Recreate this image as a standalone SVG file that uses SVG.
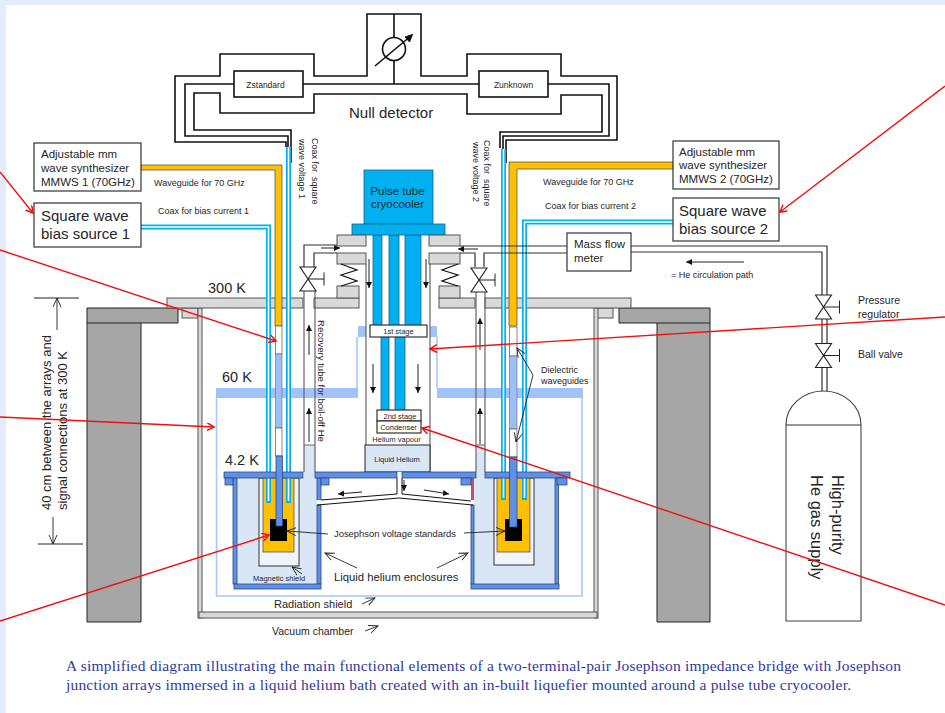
<svg xmlns="http://www.w3.org/2000/svg" width="945" height="713" viewBox="0 0 945 713">
<style>
text{font-family:"Liberation Sans",Arial,sans-serif;fill:#262626}
.s8{font-size:8.5px}.s9{font-size:9px}.s10{font-size:10.5px}.s11{font-size:11.5px}.s15{font-size:15px}
.cap{font-family:"Liberation Serif","Times New Roman",serif;font-size:15.5px;fill:#2f3a9e}
.w{fill:none;stroke:#111;stroke-width:1.6}
.thin{fill:none;stroke:#222;stroke-width:1}
.gl{fill:none;stroke:#666;stroke-width:1.2}
.box{fill:#fff;stroke:#333;stroke-width:1.2}
.conc{fill:#a6a6a6;stroke:#222;stroke-width:1}
.plate{fill:#d9d9d9;stroke:#555;stroke-width:1}
.cy{fill:#00b0f0;stroke:#1f5f80;stroke-width:.8}
.fl{fill:#5f8fe6;stroke:#2a4a80;stroke-width:.8}
.lb{fill:#9dbff7;stroke:#555;stroke-width:.5}
.shield{fill:#a2c2fa}
.he{fill:#d8e6f6}
.or{fill:#ffc000;stroke:#555;stroke-width:.8}
.ca{fill:none;stroke:#00b0f0;stroke-width:5}
.cw{fill:none;stroke:#fff;stroke-width:1.6}
.red{fill:none;stroke:#f01010;stroke-width:1.4;marker-end:url(#rh)}
.oa{fill:none;stroke:#222;stroke-width:.9;marker-end:url(#oh)}
.fa{fill:none;stroke:#222;stroke-width:1;marker-end:url(#fh)}
</style>
<defs>
<marker id="rh" markerUnits="userSpaceOnUse" markerWidth="10" markerHeight="10" refX="7" refY="4" orient="auto"><path d="M0,0 L7,4 L0,8" fill="none" stroke="#f01010" stroke-width="1.5"/></marker>
<marker id="oh" markerUnits="userSpaceOnUse" markerWidth="12" markerHeight="12" refX="9" refY="4.5" orient="auto"><path d="M0,0.5 L9,4.5 L0,8.5" fill="none" stroke="#222" stroke-width=".9"/></marker>
<marker id="fh" markerUnits="userSpaceOnUse" markerWidth="8" markerHeight="8" refX="6" refY="3" orient="auto"><path d="M0,0 L6,3 L0,6 Z" fill="#111"/></marker>
<g id="valveR"><path d="M-8,-12 H8 L-8,12 H8 Z" fill="#fff" stroke="#222" stroke-width="1.1"/><path d="M0,0 H16 M16,-6.5 V6.5" fill="none" stroke="#222" stroke-width="1"/></g>
</defs>

<rect width="945" height="713" fill="#e4ecfb"/>
<rect x="6" y="5" width="939" height="708" fill="#fff"/>

<g id="concrete">
<path class="conc" d="M87,308 H178 V323 H141 V622 H87 Z"/>
<path class="conc" d="M619,308 H710 V622 H657 V323 H619 Z"/>
<path d="M87,323 H141 M657,323 H710" stroke="#222" fill="none"/>
</g>

<g id="vacuum-chamber">
<rect class="plate" x="182" y="308" width="16" height="10"/>
<rect class="plate" x="597" y="308" width="16" height="10"/>
<rect class="plate" x="198" y="308" width="4" height="310"/>
<rect class="plate" x="594" y="308" width="4" height="310"/>
<rect class="plate" x="199" y="612" width="398" height="6"/>
</g>

<g id="radiation-shield">
<path d="M216.500,396 V596 H582 V396 M357,388 V337 M437,388 V337" fill="none" stroke="#a9c8f7" stroke-width="1.600"/>
<rect class="shield" x="216" y="388" width="142" height="10"/>
<rect class="shield" x="437" y="388" width="146" height="10"/>
<rect class="shield" x="358" y="326" width="8" height="11"/>
<rect class="shield" x="430" y="326" width="7" height="11"/>
</g>

<g id="plate-300K">
<rect class="plate" x="167" y="298" width="136" height="10"/>
<rect class="plate" x="314" y="298" width="45" height="10"/>
<rect class="plate" x="439" y="298" width="36" height="10"/>
<rect class="plate" x="485" y="298" width="146" height="10"/>
</g>

<g id="helium-enclosure-left">
<rect class="he" x="237" y="478" width="80" height="106"/>
<rect class="fl" x="233" y="478" width="4" height="106"/>
<rect class="fl" x="317" y="478" width="4" height="22"/>
<rect class="fl" x="317" y="505" width="4" height="79"/>
<rect class="fl" x="234" y="584" width="87" height="5"/>
<rect x="259" y="478" width="40" height="88" fill="#f0f5fb" stroke="#333" stroke-width="1"/>
<rect class="or" x="263" y="478" width="31" height="74"/>
<rect x="270" y="519" width="17" height="22" fill="#000"/>
</g>

<g id="helium-enclosure-right">
<rect class="he" x="474" y="478" width="81" height="106"/>
<rect x="471" y="478" width="3" height="22" fill="#c8506a"/>
<rect class="fl" x="471" y="505" width="3" height="79"/>
<rect class="fl" x="555" y="478" width="3.500" height="106"/>
<rect class="fl" x="471" y="584" width="88" height="5"/>
<rect x="494" y="478" width="40" height="87" fill="#f0f5fb" stroke="#333" stroke-width="1"/>
<rect class="or" x="497" y="478" width="33" height="74"/>
<rect x="505" y="519" width="17" height="22" fill="#000"/>
</g>

<g id="recovery-tubes">
<rect x="304" y="445" width="11" height="34" class="he"/>
<rect x="476" y="445" width="9" height="34" class="he"/>
<path class="gl" d="M304,291 V472 M315,291 V472 M476,291 V472 M485,291 V472 M304,445 H315 M476,445 H485"/>
</g>

<g id="cryocooler">
<path class="gl" d="M366,264 V472 M430,264 V472"/>
<rect class="cy" x="373" y="235" width="9" height="91"/>
<rect class="cy" x="389" y="235" width="10" height="91"/>
<rect class="cy" x="405" y="235" width="16" height="91"/>
<rect class="cy" x="381" y="337" width="8" height="73"/>
<rect class="cy" x="395" y="337" width="10" height="73"/>
<rect class="cy" x="364" y="170" width="69" height="54"/>
<rect class="cy" x="352" y="224" width="93" height="11"/>
<rect class="plate" x="337" y="235" width="29" height="11"/>
<rect class="plate" x="337" y="253" width="29" height="11"/>
<rect class="plate" x="337" y="286" width="22" height="12"/>
<rect class="plate" x="429" y="235" width="31" height="11"/>
<rect class="plate" x="429" y="253" width="31" height="11"/>
<rect class="plate" x="439" y="286" width="21" height="12"/>
<path class="w" style="stroke-width:1.200" d="M341,264 L357,270 L341,275 L357,281 L341,286 M458,264 L442,270 L458,275 L442,281 L458,286"/>
<rect class="box" x="370" y="325" width="57" height="12"/>
<rect class="box" x="377" y="410" width="44" height="11"/>
<rect class="box" x="377" y="421" width="44" height="12"/>
<rect x="365" y="445" width="65" height="27" fill="#d8e6f6" stroke="#222" stroke-width="1"/>
<text x="397.500" y="195" text-anchor="middle" style="font-size:11.500px">Pulse tube</text>
<text x="397.500" y="208" text-anchor="middle" style="font-size:11.500px">cryocooler</text>
<text x="398.500" y="334" text-anchor="middle" style="font-size:7.500px">1st stage</text>
<text x="400" y="419" text-anchor="middle" style="font-size:7.500px">2nd stage</text>
<text x="398.500" y="430" text-anchor="middle" style="font-size:7.500px">Condenser</text>
<text x="396.500" y="442" text-anchor="middle" style="font-size:7.500px">Helium vapour</text>
<text x="397" y="462" text-anchor="middle" style="font-size:7.500px">Liquid Helium</text>
</g>

<g id="transfer-line">
<path d="M321,500 L397,494 V472 H402 V494 L471,501 V505 L400,498 L317,504 V500 Z" fill="#fff"/>
<path class="w" style="stroke-width:1" d="M321,500 L397,494 V478 M402,478 V494 L471,501 M317,505 L399,498 L473,505"/>
</g>

<g id="connectors">
<g id="circuit">
<path class="w" d="M286,147 V142 H175 V76 H220 V54 H314 V76 H367 V14 H421 V76 H467 V54 H561 V76 H617 V140 H506 V163"/>
<path class="w" d="M288,150 V136 H185 V84 H234 M303,84 H479 M548,84 H609 V136 H503 V150"/>
<path class="w" d="M291,163 V130 H194 V93 H220 V113 H314 V94 H467 V114 H561 V95 H602 V132 H500 V148"/>
<path class="w" d="M394,14 V38 M394,60 V84"/>
<path class="w" d="M375,66 L412,35"/>
<path d="M412.500,34.500 L405,37 L409.500,42 Z" fill="#111" stroke="#111"/>
<circle class="w" cx="394" cy="49" r="11.500"/>
</g>
<g id="waveguides">
<path d="M141,165 H282 V326 H275 V170 H141 Z" class="or"/>
<path d="M509,162 H673 V169 H517 V326 H509 Z" class="or"/>
<rect x="275.500" y="326" width="6.500" height="28" fill="#fff" stroke="#555" stroke-width=".7"/>
<rect x="275.500" y="354" width="6.500" height="74" class="lb"/>
<rect x="275.500" y="428" width="6.500" height="28" fill="#fff" stroke="#555" stroke-width=".7"/>
<rect x="509.500" y="327" width="7.500" height="29" fill="#fff" stroke="#555" stroke-width=".7"/>
<rect x="509.500" y="356" width="7.500" height="73" class="lb"/>
<rect x="509.500" y="429" width="7.500" height="28" fill="#fff" stroke="#555" stroke-width=".7"/>
</g>
<g id="coax">
<path class="ca" d="M141,227 H268.500 V503"/><path class="cw" d="M141,227 H268.500 V501"/>
<path class="ca" d="M288.500,147 V503"/><path class="cw" d="M288.500,147 V501"/>
<path class="ca" d="M503.500,149 V500"/><path class="cw" d="M503.500,149 V498"/>
<path class="ca" d="M673,222 H524.500 V500"/><path class="cw" d="M673,222 H524.500 V498"/>
</g>
<g id="flanges">
<rect class="fl" x="224" y="472" width="79" height="6"/>
<rect class="fl" x="315" y="472" width="82" height="6"/>
<rect class="fl" x="402" y="472" width="74" height="6"/>
<rect class="fl" x="485" y="472" width="85" height="6"/>
<rect class="fl" x="225" y="478" width="8" height="7"/>
<rect class="fl" x="321" y="478" width="8" height="7"/>
<rect class="fl" x="461" y="478" width="10" height="7"/>
<rect class="fl" x="557" y="478" width="10" height="7"/>
<rect class="fl" x="276" y="456" width="6.500" height="70"/>
<rect class="fl" x="509.500" y="457" width="7.500" height="70"/>
</g>
<g id="gas-lines">
<path class="gl" style="stroke:#333" d="M304,267 V245 H337 M314,267 V253 H337 M475,267 V253 H460 M484,267 V253 H567 M460,246 H567 M631,246 H827 V295 M631,252 H822 V295 M822,319 V343 M827,319 V343 M822,368 V392 M827,368 V392"/>
<use href="#valveR" x="308" y="279"/>
<use href="#valveR" x="479" y="280"/>
<use href="#valveR" x="823.500" y="307"/>
<use href="#valveR" x="823.500" y="355.500"/>
<path class="fa" d="M321,248 H340"/>
<path class="fa" d="M478,249 H458"/>
<path class="fa" d="M369,259 V288"/>
<path class="fa" d="M426,259 V288"/>
<path class="fa" d="M373,364 V393"/>
<path class="fa" d="M418,364 V393"/>
<path class="fa" d="M309,355 V325"/>
<path class="fa" d="M309,442 V408"/>
<path class="fa" d="M480,350 V318"/>
<path class="fa" d="M480,444 V408"/>
<path class="fa" d="M404,480 V491"/>
<path class="fa" d="M362,492 L338,494"/>
<path class="fa" d="M424,490 L449,494"/>
<path class="fa" d="M744,262 H686"/>
</g>
<g id="annotations">
<path class="thin" d="M34,298 H79 M38,544 H83"/>
<path class="oa" d="M57,330 V298"/>
<path class="oa" d="M53,517 V544"/>
<path class="oa" d="M328,534 L287,531"/>
<path class="oa" d="M464,533 L505,531"/>
<path class="oa" d="M357,568 L325,553"/>
<path class="oa" d="M437,568 L468,553"/>
<path class="oa" d="M302,574 L292,567"/>
<path class="oa" d="M362,604 L375,598"/>
<path class="oa" d="M365,631 L378,626"/>
<path class="oa" d="M533,375 L517,348"/>
<path class="oa" d="M533,375 L516,442"/>
</g>
</g>

<g id="synthesizer-1"><rect class="box" x="34" y="143" width="107" height="48"/>
<text class="s11" x="41" y="158">Adjustable mm</text><text class="s11" x="41" y="172">wave synthesizer</text><text class="s11" x="41" y="186">MMWS 1 (70GHz)</text></g>
<g id="bias-source-1"><rect class="box" x="34" y="203" width="107" height="44"/>
<text class="s15" x="41" y="221">Square wave</text><text class="s15" x="41" y="239">bias source 1</text></g>
<g id="synthesizer-2"><rect class="box" x="673" y="141" width="106" height="48"/>
<text class="s11" x="679" y="156">Adjustable mm</text><text class="s11" x="679" y="169">wave synthesizer</text><text class="s11" x="679" y="183">MMWS 2 (70GHz)</text></g>
<g id="bias-source-2"><rect class="box" x="673" y="198" width="106" height="43"/>
<text class="s15" x="679" y="216">Square wave</text><text class="s15" x="679" y="234">bias source 2</text></g>
<g id="z-standard"><rect class="box" style="stroke:#111;stroke-width:1.600" x="234" y="71" width="69" height="26"/><text class="s8" x="265.500" y="88" text-anchor="middle">Zstandard</text></g>
<g id="z-unknown"><rect class="box" style="stroke:#111;stroke-width:1.600" x="479" y="71" width="69" height="26"/><text class="s8" x="513.500" y="88" text-anchor="middle">Zunknown</text></g>
<g id="mass-flow"><rect class="box" x="567" y="233" width="64" height="38"/><text class="s11" x="574" y="248">Mass flow</text><text class="s11" x="574" y="262">meter</text></g>
<g id="gas-supply">
<path d="M786,425 A37.500,34 0 0 1 861,425 V621 H786 Z" fill="#fff" stroke="#444" stroke-width="1.100"/>
<path d="M786,425 H861" stroke="#333" fill="none"/>
<text transform="translate(832,475) rotate(90)" style="font-size:16.500px">High-purity</text>
<text transform="translate(811,475) rotate(90)" style="font-size:16.500px">He gas supply</text>
</g>

<g id="labels">
<text class="s15" x="349" y="118">Null detector</text>
<text x="208" y="293" style="font-size:14.500px">300 K</text>
<text x="222" y="382" style="font-size:14.500px">60 K</text>
<text x="225" y="465" style="font-size:14.500px">4.2 K</text>
<text class="s9" x="154" y="186">Waveguide for 70 GHz</text>
<text class="s9" x="158" y="214">Coax for bias current 1</text>
<text class="s9" x="543" y="185">Waveguide for 70 GHz</text>
<text class="s9" x="545" y="209">Coax for bias current 2</text>
<text class="s9" x="671" y="278">= He circulation path</text>
<text class="s9" x="541" y="373">Dielectric</text>
<text class="s9" x="541" y="384">waveguides</text>
<text class="s10" x="858" y="304">Pressure</text>
<text class="s10" x="858" y="318">regulator</text>
<text class="s10" x="858" y="358">Ball valve</text>
<text x="334" y="537" style="font-size:9.400px">Josephson voltage standards</text>
<text x="334" y="581" style="font-size:11.300px">Liquid helium enclosures</text>
<text x="253" y="581" style="font-size:7.500px">Magnetic shield</text>
<text x="274" y="608" style="font-size:11px">Radiation shield</text>
<text x="272" y="635" class="s10">Vacuum chamber</text>
<text transform="translate(312,138) rotate(90)" class="s9" xml:space="preserve">Coax for  square</text>
<text transform="translate(299,139) rotate(90)" class="s9">wave voltage 1</text>
<text transform="translate(484,140) rotate(90)" class="s9" xml:space="preserve">Coax for  square</text>
<text transform="translate(473,142) rotate(90)" class="s9">wave voltage 2</text>
<text transform="translate(318,320) rotate(90)" style="font-size:9.600px">Recovery tube for boil-off He</text>
<text transform="translate(51,510) rotate(-90)" style="font-size:13px">40 cm between the arrays and</text>
<text transform="translate(67,510) rotate(-90)" style="font-size:13px">signal connections at 300 K</text>
</g>

<g id="caption">
<text class="cap" x="66" y="671" textLength="835">A simplified diagram illustrating the main functional elements of a two-terminal-pair Josephson impedance bridge with Josephson</text>
<text class="cap" x="66" y="690" textLength="785">junction arrays immersed in a liquid helium bath created with an in-built liquefier mounted around a pulse tube cryocooler.</text>
</g>

<g id="red-lines">
<path class="red" d="M0,172 L33,213"/>
<path class="red" d="M0,250 L276,341"/>
<path class="red" d="M0,417 L214,427"/>
<path class="red" d="M0,621 L269,535"/>
<path class="red" d="M945,86 L780,212"/>
<path class="red" d="M945,317 L430,349"/>
<path class="red" d="M945,605 L422,428"/>
</g>
</svg>
